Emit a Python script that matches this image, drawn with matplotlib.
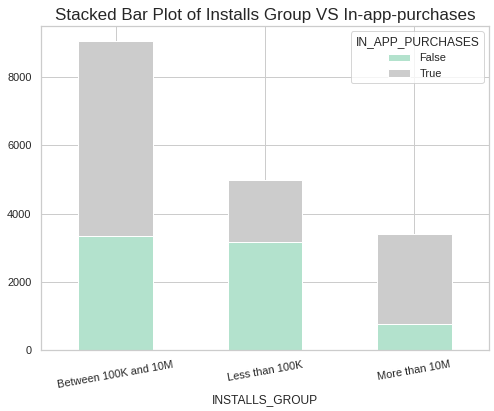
import pandas as pd
import matplotlib.pyplot as plt
import seaborn as sns

sns.set_theme(style='whitegrid')
plt.rcParams['font.family'] = ['Liberation Sans', 'DejaVu Sans']

groups = ['Between 100K and 10M', 'Less than 100K', 'More than 10M']
false_counts = [3358, 3183, 774]
true_counts = [5693, 1810, 2620]

df = pd.DataFrame({False: false_counts, True: true_counts}, index=groups)
df.index.name = 'INSTALLS_GROUP'
df.columns.name = 'IN_APP_PURCHASES'

fig, ax = plt.subplots(figsize=(494 / 72, 411 / 72), dpi=72)
df.plot(kind='bar', stacked=True, colormap='Pastel2', ax=ax)

ax.set_title('Stacked Bar Plot of Installs Group VS In-app-purchases', fontsize=17)
ax.set_xlabel('INSTALLS_GROUP')
plt.xticks(rotation=10)
ax.legend(title='IN_APP_PURCHASES', loc='upper right', title_fontsize=12)

fig.subplots_adjust(left=0.083, right=0.99, top=0.937, bottom=0.148)
fig.savefig('out.png', dpi=72)
